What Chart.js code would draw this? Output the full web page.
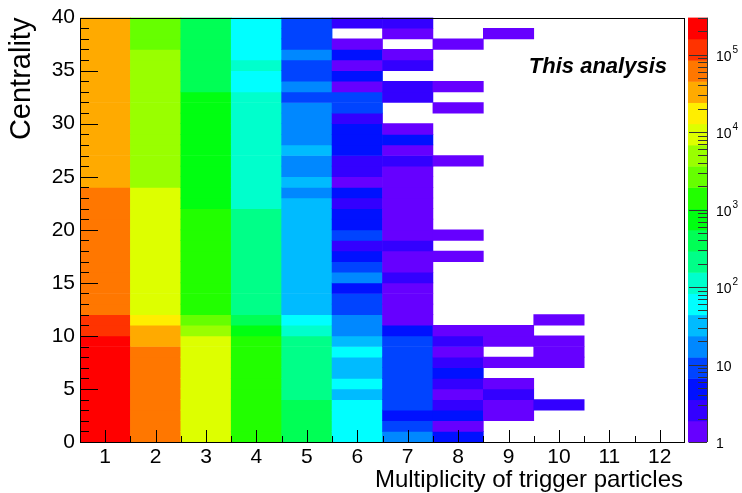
<!DOCTYPE html>
<html>
<head>
<meta charset="utf-8">
<script src="https://cdn.jsdelivr.net/npm/chart.js@4.4.1/dist/chart.umd.min.js"></script>
<style>
html, body { margin: 0; padding: 0; background: #fff; }
#wrap { width: 742px; height: 493px; }
</style>
</head>
<body>
<div id="wrap"><canvas id="multChart" width="742" height="493"></canvas></div>
<script>
const multiplicity = [1, 2, 3, 4, 5, 6, 7, 8, 9, 10, 11, 12];
const centralityEdges = [0, 1, 2, 3, 4, 5, 6, 7, 8, 9, 10, 11, 12, 13, 14, 15, 16, 17, 18, 19, 20,
    21, 22, 23, 24, 25, 26, 27, 28, 29, 30, 31, 32, 33, 34, 35, 36, 37, 38, 39, 40];

// entries per 1% centrality bin, from 0-1% up to 39-40%
const nTrig1 = [224000, 222000, 221000, 219000, 218000, 216000, 214000, 212000, 209000, 205000,
    122000, 114000,
    67000, 66000, 65000, 64000, 63000, 62000, 61000, 60000, 59000, 58500, 58000, 57000,
    36000, 35500, 35000, 34500, 34000, 33500, 33000, 32800, 32500, 32200, 32000, 31800, 31500, 31200, 31000, 30800];
const nTrig2 = [65000, 64000, 63500, 63000, 62000, 61000, 60000, 59000, 57000,
    37000, 34000, 18500,
    9900, 9800, 9700, 9600, 9500, 9400, 9300, 9200, 9100, 9000, 8900, 8800,
    5300, 5250, 5200, 5150, 5100, 5050, 5000, 4950, 4900, 4850, 4800, 4750, 4700,
    2900, 2800, 2700];
const nTrig3 = [9900, 9800, 9700, 9600, 9500, 9400, 9300, 9200, 9100, 9000,
    5200, 2800,
    1500, 1490, 1480, 1470, 1460, 1450, 1440, 1430, 1420, 1410,
    790, 785, 780, 775, 770, 765, 760, 755, 750, 745, 740,
    420, 415, 410, 405, 400, 395, 390];
const nTrig4 = [1480, 1470, 1460, 1450, 1440, 1430, 1420, 1400, 1380, 1360,
    770, 420,
    225, 222, 220, 218, 216, 214, 212, 210, 208, 206,
    120, 119, 118, 117, 116, 115, 114, 113, 112, 111, 110,
    62, 61, 100, 59, 58, 57, 56];
const nTrig5 = [430, 425, 420, 415, 232, 228, 224, 220, 216, 212,
    118, 62,
    35, 34, 34, 33, 33, 32, 32, 31, 31, 30, 30,
    18, 30, 18, 17, 28, 17, 17, 16, 16, 9, 15, 9, 8, 14, 8, 8, 9];
const nTrig6 = [65, 62, 60, 58, 36, 55, 34, 33, 52, 30,
    19, 17, 10, 9, 5, 14, 9, 6, 3, 8,
    5, 5, 3, 4, 1, 2, 3, 5, 6, 5,
    3, 8, 7, 1, 4, 1, 5, 1, 0, 3];
const nTrig7 = [15, 10, 6, 9, 10, 8, 9, 11, 9, 8,
    5, 1, 1, 1, 1, 2, 1, 1, 3, 1,
    1, 1, 1, 1, 1, 1, 2, 1, 4, 1,
    0, 0, 2, 3, 0, 2, 1, 0, 1, 3];
const nTrig8 = [4, 1, 5, 2, 1, 3, 4, 2, 1, 3,
    1, 0, 0, 0, 0, 0, 0, 1, 0, 1,
    0, 0, 0, 0, 0, 0, 1, 0, 0, 0,
    0, 1, 0, 1, 0, 0, 0, 1, 0, 0];
const nTrig9 = [0, 0, 1, 1, 2, 1, 0, 1, 0, 1,
    1, 0, 0, 0, 0, 0, 0, 0, 0, 0,
    0, 0, 0, 0, 0, 0, 0, 0, 0, 0,
    0, 0, 0, 0, 0, 0, 0, 0, 1, 0];
const nTrig10 = [0, 0, 0, 2, 0, 0, 0, 1, 1, 1,
    0, 1, 0, 0, 0, 0, 0, 0, 0, 0,
    0, 0, 0, 0, 0, 0, 0, 0, 0, 0,
    0, 0, 0, 0, 0, 0, 0, 0, 0, 0];
const nTrig11 = [0, 0, 0, 0, 0, 0, 0, 0, 0, 0,
    0, 0, 0, 0, 0, 0, 0, 0, 0, 0,
    0, 0, 0, 0, 0, 0, 0, 0, 0, 0,
    0, 0, 0, 0, 0, 0, 0, 0, 0, 0];
const nTrig12 = [0, 0, 0, 0, 0, 0, 0, 0, 0, 0,
    0, 0, 0, 0, 0, 0, 0, 0, 0, 0,
    0, 0, 0, 0, 0, 0, 0, 0, 0, 0,
    0, 0, 0, 0, 0, 0, 0, 0, 0, 0];

const zMin = 1;
const zMax = 300000;
const zDecades = [1, 10, 100, 1000, 10000, 100000];

const palette = ['#6600ff', '#3300ff', '#0011ff', '#0044ff', '#0088ff', '#00bbff', '#00ffff',
    '#00ffcc', '#00ff88', '#00ff55', '#00ff11', '#22ff00', '#66ff00', '#99ff00', '#ddff00',
    '#ffee00', '#ffaa00', '#ff7700', '#ff3300', '#ff0000'];

const FONT = '"Liberation Sans", Arial, Helvetica, sans-serif';

const colourFor = (n) => {
    const band = Math.floor(Math.log10(n) / Math.log10(zMax) * palette.length);
    return palette[Math.max(0, Math.min(palette.length - 1, band))];
};

const counts = [nTrig1, nTrig2, nTrig3, nTrig4, nTrig5, nTrig6, nTrig7, nTrig8, nTrig9, nTrig10, nTrig11, nTrig12];
const cells = [];
const cellColours = [];
counts.forEach((col, i) => {
    col.forEach((n, j) => {
        if (n <= 0) return;
        cells.push({ x: multiplicity[i], y: [centralityEdges[j], centralityEdges[j + 1]] });
        cellColours.push(colourFor(n));
    });
});

// frame, inward ticks, colour palette and titles, ROOT style
const rootStyle = {
    id: 'rootStyle',
    afterDraw(chart) {
        const ctx = chart.ctx;
        const area = chart.chartArea;
        const xs = chart.scales.x;
        const ys = chart.scales.y;
        const zs = chart.scales.z;

        ctx.save();
        ctx.strokeStyle = '#000';
        ctx.lineWidth = 1;

        ctx.beginPath();
        multiplicity.forEach(v => {
            const px = Math.round(xs.getPixelForValue(v)) + 0.5;
            ctx.moveTo(px, area.bottom);
            ctx.lineTo(px, area.bottom - 12);
            const pm = Math.round(xs.getPixelForValue(v - 0.5)) + 0.5;
            ctx.moveTo(pm, area.bottom);
            ctx.lineTo(pm, area.bottom - 6);
        });
        centralityEdges.forEach(c => {
            const py = Math.round(ys.getPixelForValue(c)) + 0.5;
            ctx.moveTo(area.left, py);
            ctx.lineTo(area.left + (c % 5 === 0 ? 18 : 9), py);
        });
        ctx.stroke();

        ctx.strokeRect(Math.round(area.left) + 0.5, Math.round(area.top) + 0.5,
            Math.round(area.right - area.left) - 1, Math.round(area.bottom - area.top));

        // palette
        const barL = area.right + 3;
        const barR = area.right + 22;
        const lmax = Math.log10(zMax);
        palette.forEach((c, i) => {
            const y0 = zs.getPixelForValue(Math.pow(10, i * lmax / palette.length));
            const y1 = zs.getPixelForValue(Math.pow(10, (i + 1) * lmax / palette.length));
            ctx.fillStyle = c;
            ctx.fillRect(barL, y1, barR - barL, y0 - y1 + 0.5);
        });
        ctx.strokeStyle = '#333';
        ctx.beginPath();
        ctx.moveTo(barR + 0.5, area.top);
        ctx.lineTo(barR + 0.5, area.bottom);
        zDecades.forEach(d => {
            const py = Math.round(zs.getPixelForValue(d)) + 0.5;
            ctx.moveTo(barR, py);
            ctx.lineTo(barR - 18, py);
            for (let k = 2; k < 10; k++) {
                if (d * k > zMax) break;
                const pk = Math.round(zs.getPixelForValue(d * k)) + 0.5;
                ctx.moveTo(barR, pk);
                ctx.lineTo(barR - 9, pk);
            }
        });
        ctx.stroke();

        ctx.fillStyle = '#000';
        ctx.textAlign = 'left';
        ctx.textBaseline = 'alphabetic';
        zDecades.forEach((d, k) => {
            const py = zs.getPixelForValue(d);
            ctx.font = '14px ' + FONT;
            const base = k === 0 ? '1' : '10';
            ctx.fillText(base, barR + 9, py + 6);
            if (k > 1) {
                const w = ctx.measureText(base).width;
                ctx.font = '10px ' + FONT;
                ctx.fillText(String(k), barR + 10 + w, py - 2);
            }
        });

        // axis titles
        ctx.font = '24px ' + FONT;
        ctx.textAlign = 'right';
        ctx.fillText('Multiplicity of trigger particles', area.right - 2, 487);

        ctx.save();
        ctx.translate(30, area.top);
        ctx.rotate(-Math.PI / 2);
        ctx.font = '29px ' + FONT;
        ctx.textAlign = 'right';
        ctx.fillText('Centrality', 0, 0);
        ctx.restore();

        ctx.font = 'italic bold 22px ' + FONT;
        ctx.textAlign = 'right';
        ctx.fillText('This analysis', area.right - 18, 73);

        ctx.restore();
    }
};

new Chart(document.getElementById('multChart'), {
    type: 'bar',
    data: {
        datasets: [{
            label: 'entries',
            data: cells,
            backgroundColor: cellColours,
            borderWidth: 0,
            barPercentage: 1,
            categoryPercentage: 1
        }]
    },
    options: {
        responsive: false,
        animation: false,
        devicePixelRatio: 1,
        layout: { padding: { top: 16, right: 57, left: 0, bottom: 0 } },
        plugins: {
            legend: { display: false },
            tooltip: { enabled: false }
        },
        scales: {
            x: {
                type: 'linear',
                offset: false,
                min: 0.5,
                max: 12.5,
                grid: { display: false, drawTicks: false },
                border: { display: false },
                afterBuildTicks: (scale) => {
                    scale.ticks = multiplicity.map(v => ({ value: v }));
                },
                afterFit: (scale) => { scale.height = 51; },
                ticks: {
                    autoSkip: false,
                    maxRotation: 0,
                    padding: 3,
                    color: '#000',
                    font: { family: FONT, size: 21 }
                }
            },
            y: {
                min: 0,
                max: 40,
                grid: { display: false, drawTicks: false },
                border: { display: false },
                afterFit: (scale) => { scale.width = 80; },
                ticks: {
                    stepSize: 5,
                    padding: 5,
                    color: '#000',
                    font: { family: FONT, size: 21 }
                }
            },
            z: {
                type: 'logarithmic',
                position: 'right',
                display: false,
                min: zMin,
                max: zMax
            }
        }
    },
    plugins: [rootStyle]
});
</script>
</body>
</html>
